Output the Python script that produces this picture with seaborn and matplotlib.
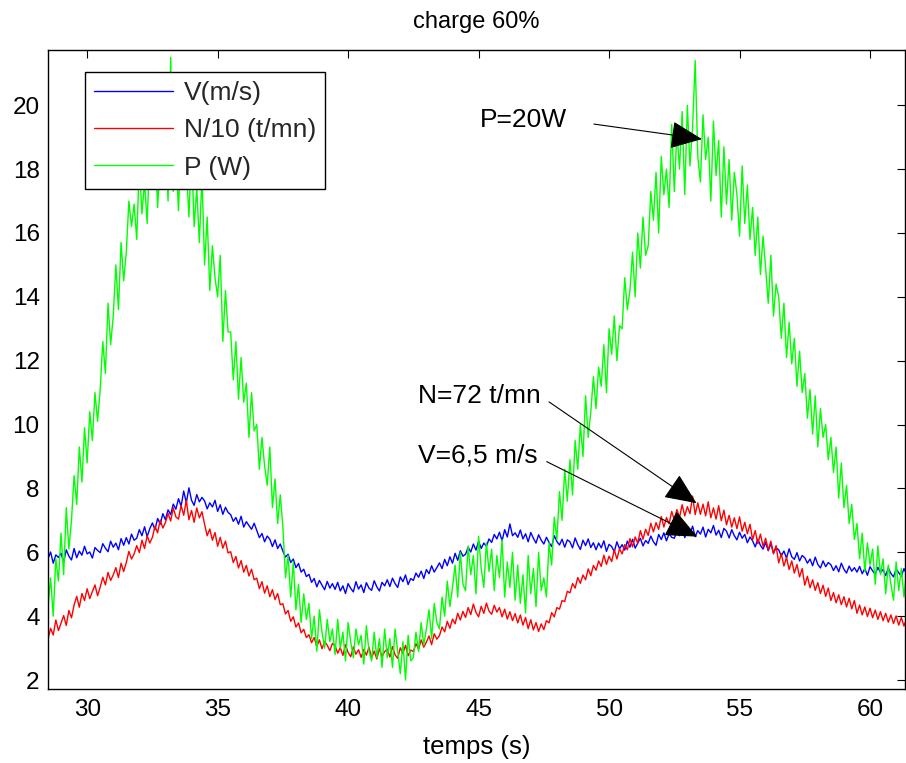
import numpy as np
import pandas as pd
import matplotlib
matplotlib.use("Agg")
import matplotlib.pyplot as plt
import seaborn as sns

# ---------------- data (0.1 s sampling from t=28.5 s) ----------------
T_START = 28.5
T_STEP = 0.1

V = [
    5.80, 6.01, 5.66, 5.92, 5.84, 5.97, 5.69, 6.08, 5.88, 5.76,
    6.12, 5.83, 6.04, 5.91, 6.19, 5.95, 6.01, 5.82, 6.15, 6.06,
    5.99, 6.27, 6.13, 6.02, 6.35, 6.16, 6.29, 6.08, 6.43, 6.22,
    6.46, 6.26, 6.57, 6.38, 6.44, 6.71, 6.52, 6.80, 6.49, 6.74,
    6.92, 6.71, 7.06, 6.88, 7.21, 7.02, 7.33, 7.18, 7.51, 7.35,
    7.68, 7.44, 7.92, 7.55, 8.02, 7.63, 7.47, 7.81, 7.58, 7.72,
    7.61, 7.36, 7.55, 7.42, 7.63, 7.28, 7.49, 7.19, 7.41, 7.25,
    7.18, 6.97, 7.09, 6.88, 7.13, 6.79, 6.96, 6.84, 6.72, 6.91,
    6.68, 6.46, 6.59, 6.33, 6.51, 6.41, 6.18, 6.39, 6.12, 6.26,
    6.04, 5.85, 5.94, 5.68, 5.79, 5.52, 5.65, 5.38, 5.47, 5.24,
    5.31, 5.06, 5.18, 4.92, 5.12, 4.97, 4.83, 5.09, 4.88, 5.02,
    4.84, 5.06, 4.79, 4.95, 4.71, 5.02, 4.87, 4.76, 5.08, 4.85,
    4.98, 4.74, 5.05, 4.88, 4.81, 5.11, 4.92, 4.79, 5.06, 4.95,
    5.14, 4.93, 5.19, 5.02, 4.90, 5.23, 5.08, 5.29, 4.99, 5.18,
    5.12, 5.35, 5.22, 5.41, 5.18, 5.46, 5.33, 5.58, 5.38, 5.52,
    5.67, 5.49, 5.78, 5.58, 5.86, 5.66, 5.97, 5.75, 6.05, 5.88,
    5.94, 6.16, 6.01, 6.26, 6.07, 6.35, 6.12, 6.29, 6.19, 6.42,
    6.31, 6.56, 6.42, 6.63, 6.36, 6.71, 6.48, 6.89, 6.52, 6.61,
    6.47, 6.70, 6.42, 6.58, 6.33, 6.62, 6.44, 6.29, 6.55, 6.38,
    6.26, 6.47, 6.31, 6.18, 6.52, 6.34, 6.23, 6.41, 6.16, 6.39,
    6.33, 6.14, 6.45, 6.24, 6.09, 6.38, 6.21, 6.42, 6.15, 6.30,
    6.08, 6.29, 6.14, 6.36, 6.03, 6.25, 6.18, 6.02, 6.33, 6.11,
    6.24, 6.07, 6.35, 6.16, 6.41, 6.13, 6.29, 6.44, 6.20, 6.37,
    6.28, 6.51, 6.33, 6.22, 6.56, 6.40, 6.61, 6.36, 6.58, 6.47,
    6.44, 6.66, 6.52, 6.77, 6.46, 6.71, 6.58, 6.82, 6.49, 6.68,
    6.57, 6.79, 6.48, 6.72, 6.61, 6.84, 6.54, 6.69, 6.46, 6.75,
    6.66, 6.45, 6.71, 6.52, 6.39, 6.63, 6.44, 6.56, 6.30, 6.48,
    6.36, 6.17, 6.41, 6.22, 6.10, 6.31, 6.05, 6.27, 5.98, 6.14,
    6.08, 5.89, 6.04, 5.82, 6.11, 5.86, 5.78, 5.99, 5.73, 5.90,
    5.83, 5.66, 5.79, 5.58, 5.85, 5.62, 5.51, 5.73, 5.55, 5.68,
    5.61, 5.43, 5.58, 5.39, 5.66, 5.47, 5.35, 5.57, 5.41, 5.52,
    5.38, 5.56, 5.33, 5.49, 5.28, 5.55, 5.42, 5.31, 5.53, 5.37,
    5.46, 5.27, 5.51, 5.34, 5.23, 5.48, 5.36, 5.25, 5.49, 5.32,
]

N10 = [
    3.28, 3.62, 3.41, 3.88, 3.55, 3.79, 4.02, 3.71, 4.18, 3.95,
    4.35, 4.62, 4.28, 4.71, 4.49, 4.86, 4.55, 4.77, 4.98, 4.64,
    4.91, 5.22, 4.98, 5.37, 5.12, 5.29, 5.52, 5.21, 5.66, 5.40,
    5.68, 6.03, 5.79, 5.95, 6.21, 5.99, 6.38, 6.12, 6.52, 6.29,
    6.47, 6.82, 6.61, 7.01, 6.76, 6.93, 7.22, 6.98, 7.39, 7.11,
    7.04, 7.47, 7.16, 7.63, 7.02, 7.31, 6.94, 7.39, 7.08, 7.27,
    6.88, 6.52, 6.73, 6.38, 6.62, 6.19, 6.47, 6.13, 6.35, 5.98,
    6.02, 5.68, 5.87, 5.51, 5.74, 5.38, 5.59, 5.26, 5.47, 5.14,
    5.19, 4.86, 5.08, 4.72, 4.95, 4.61, 4.83, 4.52, 4.71, 4.36,
    4.39, 4.07, 4.18, 3.84, 3.98, 3.66, 3.79, 3.48, 3.59, 3.33,
    3.42, 3.17, 3.33, 3.05, 3.26, 2.98, 3.21, 3.09, 2.92, 3.15,
    3.08, 2.84, 3.02, 2.77, 3.11, 2.86, 2.73, 3.04, 2.81, 2.95,
    2.71, 2.96, 2.78, 3.03, 2.69, 2.91, 2.66, 2.98, 2.74, 2.89,
    2.97, 2.72, 3.05, 2.79, 2.68, 3.01, 2.83, 3.09, 2.76, 2.94,
    2.89, 3.14, 2.97, 3.26, 3.03, 3.19, 3.38, 3.11, 3.45, 3.28,
    3.39, 3.66, 3.51, 3.84, 3.62, 3.91, 3.76, 4.09, 3.88, 4.15,
    3.96, 4.27, 4.05, 4.38, 4.12, 3.98, 4.31, 4.09, 4.41, 4.16,
    4.06, 4.34, 4.13, 4.27, 3.98, 4.22, 3.91, 4.14, 3.86, 4.08,
    3.79, 4.04, 3.72, 3.96, 3.61, 3.89, 3.57, 3.80, 3.52, 3.76,
    3.58, 3.86, 3.79, 4.11, 3.98, 4.27, 4.22, 4.49, 4.46, 4.78,
    4.73, 5.02, 4.88, 5.21, 5.03, 5.29, 5.14, 5.48, 5.27, 5.59,
    5.44, 5.73, 5.56, 5.91, 5.62, 5.88, 5.71, 6.08, 5.79, 6.11,
    5.95, 6.24, 6.08, 6.43, 6.17, 6.48, 6.29, 6.68, 6.41, 6.72,
    6.53, 6.91, 6.64, 6.93, 6.72, 7.12, 6.79, 7.09, 6.89, 7.28,
    7.01, 7.34, 7.09, 7.49, 7.14, 7.43, 7.21, 7.76, 7.18, 7.55,
    7.19, 7.51, 7.14, 7.58, 7.08, 7.39, 7.04, 7.46, 6.99, 7.32,
    6.86, 7.16, 6.79, 7.08, 6.74, 7.11, 6.66, 6.94, 6.58, 6.88,
    6.39, 6.68, 6.27, 6.57, 6.19, 6.44, 6.07, 6.35, 5.95, 6.21,
    5.67, 5.96, 5.57, 5.84, 5.46, 5.73, 5.35, 5.62, 5.23, 5.49,
    4.97, 5.25, 4.89, 5.14, 4.81, 5.05, 4.71, 4.97, 4.62, 4.88,
    4.49, 4.74, 4.42, 4.67, 4.36, 4.61, 4.29, 4.56, 4.23, 4.49,
    4.09, 4.35, 4.04, 4.29, 3.99, 4.25, 3.95, 4.19, 3.90, 4.14,
    3.86, 4.09, 3.81, 4.04, 3.77, 4.01, 3.72, 3.96, 3.69, 3.92,
]

P = [
    4.3, 5.2, 4.0, 5.8, 5.1, 6.6, 5.3, 7.4, 6.1, 7.0,
    8.4, 7.5, 9.3, 8.2, 9.9, 8.8, 10.4, 9.5, 11.0, 10.1,
    11.1, 12.6, 11.6, 13.8, 12.5, 13.4, 15.0, 13.6, 15.7, 14.5,
    15.4, 17.0, 16.2, 16.9, 15.8, 18.2, 16.6, 17.6, 16.3, 18.6,
    17.4, 18.9, 16.8, 18.3, 17.6, 19.2, 17.0, 21.5, 17.3, 18.5,
    16.7, 18.9, 17.5, 18.1, 16.5, 18.6, 16.2, 17.4, 15.7, 17.8,
    15.0, 16.5, 14.2, 15.6, 14.6, 14.0, 15.3, 12.6, 14.2, 12.9,
    12.9, 11.4, 12.6, 10.8, 12.1, 10.7, 11.3, 9.6, 11.0, 9.8,
    10.0, 8.6, 9.6, 8.7, 8.1, 9.3, 7.4, 8.3, 6.9, 7.8,
    6.8, 5.2, 5.9, 4.6, 5.7, 4.2, 5.0, 3.8, 4.7, 3.9,
    4.4, 3.3, 4.0, 2.9, 4.2, 3.5, 3.0, 3.9, 3.2, 3.6,
    2.8, 3.9, 3.0, 3.5, 2.6, 3.8, 3.2, 2.7, 3.6, 3.1,
    3.4, 2.5, 3.7, 2.9, 2.6, 3.5, 2.7, 3.3, 2.4, 3.6,
    2.7, 3.3, 2.4, 3.6, 2.9, 2.2, 3.2, 2.0, 3.4, 2.6,
    2.7, 3.5, 2.9, 3.8, 3.1, 3.6, 4.2, 3.3, 4.4, 3.8,
    3.6, 4.6, 4.0, 5.1, 4.3, 4.9, 5.6, 4.6, 6.0, 5.0,
    4.8, 6.2, 5.3, 5.9, 4.7, 6.5, 5.5, 4.9, 6.3, 5.4,
    6.1, 4.8, 5.9, 5.2, 6.4, 4.6, 5.7, 4.9, 6.0, 4.5,
    5.6, 4.4, 5.3, 4.1, 5.9, 4.7, 5.5, 4.3, 6.0, 4.8,
    5.2, 4.6, 6.3, 5.6, 7.1, 6.4, 7.9, 7.0, 8.6, 7.6,
    8.9, 7.8, 9.5, 8.6, 10.0, 9.0, 10.9, 9.6, 10.4, 11.5,
    10.5, 11.8, 11.2, 12.5, 11.0, 13.0, 12.2, 13.4, 12.0, 13.1,
    13.0, 14.6, 13.6, 14.2, 15.4, 14.0, 16.0, 14.9, 16.5, 15.3,
    15.6, 17.3, 16.4, 17.9, 16.0, 18.4, 17.2, 18.0, 16.8, 19.4,
    17.3, 19.2, 18.0, 19.8, 17.2, 20.0, 18.1, 19.3, 21.4, 18.4,
    17.6, 19.7, 18.3, 19.0, 17.0, 19.5, 17.8, 18.9, 16.5, 18.7,
    16.9, 18.3, 16.4, 17.9, 17.2, 15.9, 18.1, 16.3, 17.5, 15.8,
    16.8, 15.3, 16.5, 14.7, 15.9, 14.9, 13.8, 15.3, 13.4, 14.4,
    14.0, 12.7, 13.8, 12.1, 13.2, 11.9, 12.7, 11.2, 12.3, 11.0,
    11.6, 10.2, 11.1, 9.7, 10.9, 9.3, 10.5, 9.6, 10.0, 8.9,
    9.6, 8.5, 9.3, 7.7, 8.8, 7.4, 8.1, 6.9, 7.5, 6.4,
    6.9, 5.8, 6.6, 5.4, 6.3, 5.6, 6.1, 5.0, 6.2, 5.3,
    5.8, 4.7, 5.6, 5.0, 4.5, 5.7, 4.8, 5.5, 4.6, 5.4,
]

SERIES = ["V(m/s)", "N/10 (t/mn)", "P (W)"]
COLORS = ["#0000ff", "#ff0000", "#00ff00"]
X_TICKS = [30, 35, 40, 45, 50, 55, 60]
Y_TICKS = [2, 4, 6, 8, 10, 12, 14, 16, 18, 20]
TITLE = "charge 60%"
XLABEL = "temps (s)"

# annotations: (text, text position, arrow tail, arrow tip)
ANNOTATIONS = [
    ("P=20W", (45.05, 19.55), (49.42, 19.41), (53.56, 18.94)),
    ("N=72 t/mn", (42.68, 10.90), (47.70, 10.71), (53.35, 7.54)),
    ("V=6,5 m/s", (42.68, 9.02), (47.61, 8.84), (53.38, 6.49)),
]

# ---------------- build table ----------------
n = len(V)
time = np.round(T_START + T_STEP * np.arange(n), 2)
df = pd.DataFrame({
    "t": np.tile(time, 3),
    "val": np.concatenate([V, N10, P]),
    "series": np.repeat(SERIES, n),
})

sns.set_theme(style="white")
plt.rcParams["font.family"] = ["Liberation Sans", "DejaVu Sans"]

fig = plt.figure(figsize=(9.06, 7.63), dpi=100)
ax = fig.add_axes([48 / 906, (763 - 689) / 763, (905 - 48) / 906, (689 - 50) / 763])

sns.lineplot(data=df, x="t", y="val", hue="series", hue_order=SERIES,
             palette=COLORS, estimator=None, sort=False, lw=1.0, ax=ax)

ax.set_xlim(28.5, 61.34)
ax.set_ylim(1.72, 21.73)
ax.set_xticks(X_TICKS)
ax.set_yticks(Y_TICKS)
ax.tick_params(direction="in", length=6, width=0.8, top=True, right=True,
               labelsize=17.5, colors="black")
ax.tick_params(axis="x", pad=7)
ax.tick_params(axis="y", pad=6)
for s in ax.spines.values():
    s.set_color("black")
    s.set_linewidth(1.0)
    s.set_visible(True)

ax.set_xlabel(XLABEL, fontsize=18.5, color="black", labelpad=10)
ax.set_ylabel("")
ax.set_title(TITLE, fontsize=17, color="black", pad=16)

handles, labels = ax.get_legend_handles_labels()
leg = ax.legend(handles, labels, loc="upper left",
                bbox_to_anchor=(37 / 857, (689 - 72) / 639), borderaxespad=0,
                fontsize=19, frameon=True, fancybox=False, framealpha=1,
                edgecolor="black", handlelength=3.0, handletextpad=0.4,
                labelspacing=0.5, borderpad=0.35)
leg.get_frame().set_linewidth(1.0)
for line in leg.get_lines():
    line.set_linewidth(1.0)

for txt, tpos, tail, tip in ANNOTATIONS:
    ax.text(tpos[0], tpos[1], txt, fontsize=19, color="black",
            ha="left", va="center")
    ax.annotate("", xy=tip, xytext=tail,
                arrowprops=dict(arrowstyle="-|>,head_length=0.5,head_width=0.22",
                                mutation_scale=40, color="black", lw=0.8,
                                shrinkA=0, shrinkB=0))

fig.savefig("out.png", dpi=100)
